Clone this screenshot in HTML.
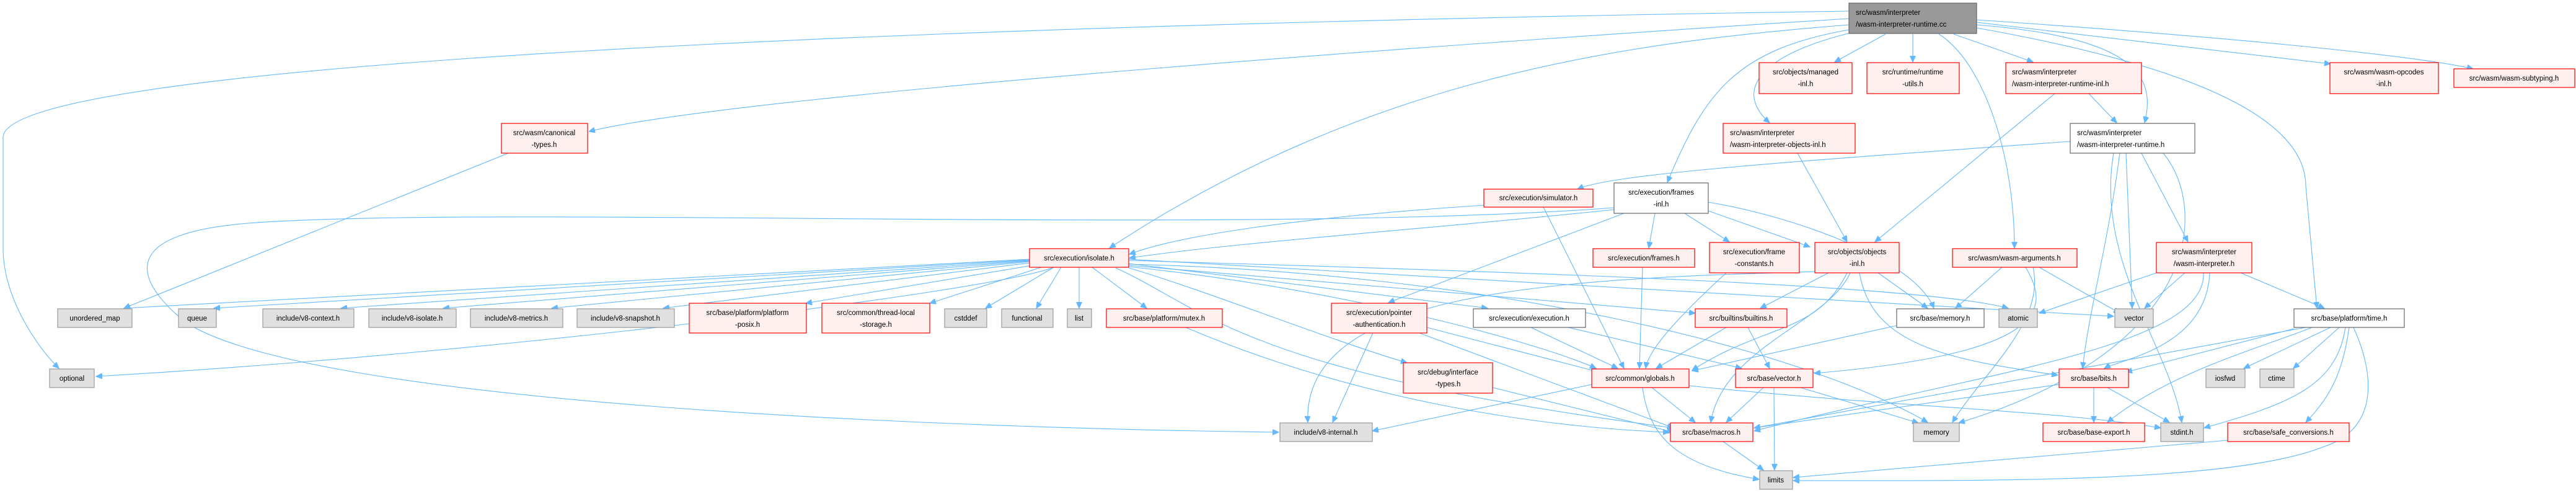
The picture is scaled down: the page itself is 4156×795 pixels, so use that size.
<!DOCTYPE html>
<html><head><meta charset="utf-8"><style>
html,body{margin:0;padding:0;background:#fff;}
svg{display:block;}
text{font-family:"Liberation Sans",sans-serif;font-size:11.5px;fill:#000;}
.r{fill:#fff0f0;stroke:#ff0000;stroke-width:1.2;}
.g{fill:#e0e0e0;stroke:#999;stroke-width:1.2;}
.w{fill:#fff;stroke:#666;stroke-width:1.2;}
.root{fill:#999;stroke:#666;stroke-width:1.2;}
path{fill:none;stroke:#63b8ff;stroke-width:1.1;}
</style></head><body>
<svg width="4156" height="795" viewBox="0 0 4156 795" xmlns="http://www.w3.org/2000/svg">
<defs><marker id="a" markerUnits="userSpaceOnUse" markerWidth="11" markerHeight="9" refX="10" refY="4.5" orient="auto"><path d="M0,0 L10,4.5 L0,9 Z" style="fill:#63b8ff;stroke:#63b8ff"/></marker></defs>
<g marker-end="url(#a)">
<path d="M2983,18 C1500,40 20,100 5,220 L5,400 C5,480 60,560 95,594"/>
<path d="M2983,30 C2500,60 1200,150 950,212"/>
<path d="M2983,40 C2600,70 2200,130 1790,400"/>
<path d="M2983,48 C2800,80 2750,150 2690,294"/>
<path d="M2990,52 C2830,90 2800,150 2855,198"/>
<path d="M3042,55 L2960,100"/>
<path d="M3086,55 L3086,100"/>
<path d="M3152,55 L3280,100"/>
<path d="M3189,40 C3440,60 3480,120 3460,198"/>
<path d="M3189,36 L3760,103"/>
<path d="M3189,32 C3600,60 3900,90 3990,111"/>
<path d="M3128,55 C3200,100 3250,250 3250,400"/>
<path d="M3189,45 C3500,100 3720,180 3720,300 L3738,497"/>
<path d="M3370,151 L3415,198"/>
<path d="M3315,151 L3025,390"/>
<path d="M2900,247 L2980,390"/>
<path d="M3340,228 C2900,260 2600,280 2545,305"/>
<path d="M3430,247 L3440,497"/>
<path d="M3455,247 L3530,390"/>
<path d="M3490,247 C3560,330 3560,560 3160,682"/>
<path d="M3420,247 C3400,400 3370,500 3360,594"/>
<path d="M3410,247 C3380,420 3500,560 3520,681"/>
<path d="M2394,331 C2100,350 1900,380 1822,410"/>
<path d="M2490,334 L2620,594"/>
<path d="M2604,338 C2300,370 2000,390 1822,416"/>
<path d="M2670,344 L2660,400"/>
<path d="M2718,344 L2790,390"/>
<path d="M2756,340 L2920,398"/>
<path d="M2620,344 L2240,488"/>
<path d="M2756,326 C2900,350 3090,420 3120,497"/>
<path d="M2604,335 C2000,380 800,330 400,360 C150,380 250,480 300,520 C500,650 1500,690 2063,697"/>
<path d="M1661,418 L200,497"/>
<path d="M1661,419 L345,497"/>
<path d="M1661,420 L550,497"/>
<path d="M1661,421 L715,497"/>
<path d="M1661,422 L890,497"/>
<path d="M1661,424 L1070,497"/>
<path d="M1665,428 L1300,489"/>
<path d="M1680,431 L1500,489"/>
<path d="M1700,431 L1590,497"/>
<path d="M1712,431 L1672,497"/>
<path d="M1741,431 L1741,497"/>
<path d="M1762,431 L1850,497"/>
<path d="M1700,431 C1600,470 800,570 155,607"/>
<path d="M1821,425 L2400,497"/>
<path d="M1821,428 L2735,505"/>
<path d="M1821,432 C1950,470 2150,550 2270,585"/>
<path d="M1821,420 C2500,440 3100,460 3240,497"/>
<path d="M1821,418 L3410,510"/>
<path d="M1821,426 C2400,440 2900,560 3110,681"/>
<path d="M1800,432 C1950,500 2000,600 2700,690"/>
<path d="M1821,430 C2200,470 2500,560 2575,594"/>
<path d="M2928,438 C2500,450 2100,470 2110,681"/>
<path d="M2215,537 L2150,681"/>
<path d="M2302,528 L2580,600"/>
<path d="M2290,537 L2700,690"/>
<path d="M1913,528 C2200,650 2500,690 2693,697"/>
<path d="M2408,625 L2700,697"/>
<path d="M2470,528 L2610,594"/>
<path d="M2530,528 L2810,594"/>
<path d="M2785,528 L2672,594"/>
<path d="M2820,528 L2855,594"/>
<path d="M2785,440 C2720,500 2660,560 2655,594"/>
<path d="M2650,431 L2645,594"/>
<path d="M2950,440 L2840,497"/>
<path d="M3030,440 L3110,497"/>
<path d="M2980,440 C2930,540 2850,520 2730,597"/>
<path d="M2985,440 C2950,520 2780,560 2760,681"/>
<path d="M3000,440 C3020,560 3150,580 3320,605"/>
<path d="M3230,431 L3155,497"/>
<path d="M3268,431 C3310,500 3300,570 2927,602"/>
<path d="M3290,431 L3420,505"/>
<path d="M3280,431 C3300,520 3200,600 3150,681"/>
<path d="M3060,525 L2730,598"/>
<path d="M2665,625 L2735,681"/>
<path d="M2650,625 C2660,700 2700,750 2838,773"/>
<path d="M2568,620 L2214,695"/>
<path d="M2725,622 C3100,660 3300,660 3486,690"/>
<path d="M2845,625 L2785,681"/>
<path d="M2862,625 L2863,758"/>
<path d="M2905,625 L3095,682"/>
<path d="M2780,712 L2845,758"/>
<path d="M3378,625 L3378,681"/>
<path d="M3400,625 L3500,681"/>
<path d="M3322,620 L2830,690"/>
<path d="M3525,440 L3460,497"/>
<path d="M3615,440 L3750,497"/>
<path d="M3479,440 L3290,505"/>
<path d="M3565,440 C3560,560 3420,580 3395,594"/>
<path d="M3555,440 C3560,560 3200,600 2830,695"/>
<path d="M3760,528 L3620,594"/>
<path d="M3774,528 L3700,594"/>
<path d="M3730,528 C3650,560 3500,600 3400,681"/>
<path d="M3784,528 C3770,620 3700,650 3556,690"/>
<path d="M3790,528 C3780,600 3760,640 3720,681"/>
<path d="M3797,528 C3830,600 3840,690 3750,720 C3600,780 3200,775 2893,775"/>
<path d="M3701,530 L3430,600"/>
<path d="M3720,528 L2830,690"/>
<path d="M3594,710 L2893,770"/>
<path d="M820,247 L200,497"/>
</g>
<rect class="root" x="2983" y="5" width="206" height="49"/>
<text x="2994" y="24">src/wasm/interpreter</text><text x="2994" y="43">/wasm-interpreter-runtime.cc</text>

<rect class="r" x="809" y="199" width="139" height="48"/><text x="878" y="218" text-anchor="middle">src/wasm/canonical</text><text x="878" y="237" text-anchor="middle">-types.h</text>
<rect class="r" x="2838" y="101" width="150" height="50"/><text x="2913" y="120" text-anchor="middle">src/objects/managed</text><text x="2913" y="139" text-anchor="middle">-inl.h</text>
<rect class="r" x="3012" y="101" width="149" height="50"/><text x="3086" y="120" text-anchor="middle">src/runtime/runtime</text><text x="3086" y="139" text-anchor="middle">-utils.h</text>
<rect class="r" x="3236" y="101" width="219" height="50"/><text x="3246" y="120">src/wasm/interpreter</text><text x="3246" y="139">/wasm-interpreter-runtime-inl.h</text>
<rect class="r" x="3759" y="101" width="175" height="50"/><text x="3846" y="120" text-anchor="middle">src/wasm/wasm-opcodes</text><text x="3846" y="139" text-anchor="middle">-inl.h</text>
<rect class="r" x="3959" y="111" width="195" height="30"/><text x="4056" y="130" text-anchor="middle">src/wasm/wasm-subtyping.h</text>
<rect class="r" x="2780" y="199" width="213" height="48"/><text x="2791" y="218">src/wasm/interpreter</text><text x="2791" y="237">/wasm-interpreter-objects-inl.h</text>
<rect class="w" x="3340" y="199" width="201" height="48"/><text x="3351" y="218">src/wasm/interpreter</text><text x="3351" y="237">/wasm-interpreter-runtime.h</text>
<rect class="r" x="2394" y="305" width="176" height="29"/><text x="2482" y="323" text-anchor="middle">src/execution/simulator.h</text>
<rect class="w" x="2604" y="295" width="152" height="49"/><text x="2680" y="314" text-anchor="middle">src/execution/frames</text><text x="2680" y="333" text-anchor="middle">-inl.h</text>

<rect class="r" x="1661" y="401" width="160" height="30"/><text x="1741" y="420" text-anchor="middle">src/execution/isolate.h</text>
<rect class="r" x="2570" y="401" width="164" height="30"/><text x="2652" y="420" text-anchor="middle">src/execution/frames.h</text>
<rect class="r" x="2758" y="391" width="145" height="49"/><text x="2830" y="410" text-anchor="middle">src/execution/frame</text><text x="2830" y="429" text-anchor="middle">-constants.h</text>
<rect class="r" x="2928" y="391" width="136" height="49"/><text x="2996" y="410" text-anchor="middle">src/objects/objects</text><text x="2996" y="429" text-anchor="middle">-inl.h</text>
<rect class="r" x="3150" y="401" width="201" height="30"/><text x="3250" y="420" text-anchor="middle">src/wasm/wasm-arguments.h</text>
<rect class="r" x="3479" y="391" width="154" height="49"/><text x="3556" y="410" text-anchor="middle">src/wasm/interpreter</text><text x="3556" y="429" text-anchor="middle">/wasm-interpreter.h</text>

<rect class="g" x="93" y="498" width="120" height="30"/><text x="153" y="517" text-anchor="middle">unordered_map</text>
<rect class="g" x="288" y="498" width="61" height="30"/><text x="318" y="517" text-anchor="middle">queue</text>
<rect class="g" x="424" y="498" width="147" height="30"/><text x="497" y="517" text-anchor="middle">include/v8-context.h</text>
<rect class="g" x="595" y="498" width="141" height="30"/><text x="665" y="517" text-anchor="middle">include/v8-isolate.h</text>
<rect class="g" x="759" y="498" width="149" height="30"/><text x="833" y="517" text-anchor="middle">include/v8-metrics.h</text>
<rect class="g" x="931" y="498" width="157" height="30"/><text x="1009" y="517" text-anchor="middle">include/v8-snapshot.h</text>
<rect class="r" x="1112" y="489" width="189" height="48"/><text x="1206" y="508" text-anchor="middle">src/base/platform/platform</text><text x="1206" y="527" text-anchor="middle">-posix.h</text>
<rect class="r" x="1326" y="489" width="174" height="48"/><text x="1413" y="508" text-anchor="middle">src/common/thread-local</text><text x="1413" y="527" text-anchor="middle">-storage.h</text>
<rect class="g" x="1524" y="498" width="68" height="30"/><text x="1558" y="517" text-anchor="middle">cstddef</text>
<rect class="g" x="1616" y="498" width="83" height="30"/><text x="1657" y="517" text-anchor="middle">functional</text>
<rect class="g" x="1722" y="498" width="39" height="30"/><text x="1741" y="517" text-anchor="middle">list</text>
<rect class="r" x="1785" y="498" width="187" height="30"/><text x="1878" y="517" text-anchor="middle">src/base/platform/mutex.h</text>
<rect class="r" x="2148" y="489" width="154" height="48"/><text x="2225" y="508" text-anchor="middle">src/execution/pointer</text><text x="2225" y="527" text-anchor="middle">-authentication.h</text>
<rect class="w" x="2377" y="498" width="181" height="30"/><text x="2467" y="517" text-anchor="middle">src/execution/execution.h</text>
<rect class="r" x="2735" y="498" width="148" height="30"/><text x="2809" y="517" text-anchor="middle">src/builtins/builtins.h</text>
<rect class="w" x="3060" y="498" width="141" height="30"/><text x="3130" y="517" text-anchor="middle">src/base/memory.h</text>
<rect class="g" x="3225" y="498" width="62" height="30"/><text x="3256" y="517" text-anchor="middle">atomic</text>
<rect class="g" x="3412" y="498" width="62" height="30"/><text x="3443" y="517" text-anchor="middle">vector</text>
<rect class="w" x="3701" y="498" width="178" height="30"/><text x="3790" y="517" text-anchor="middle">src/base/platform/time.h</text>

<rect class="g" x="80" y="595" width="72" height="30"/><text x="116" y="614" text-anchor="middle">optional</text>
<rect class="r" x="2264" y="585" width="144" height="49"/><text x="2336" y="604" text-anchor="middle">src/debug/interface</text><text x="2336" y="623" text-anchor="middle">-types.h</text>
<rect class="r" x="2568" y="595" width="157" height="30"/><text x="2646" y="614" text-anchor="middle">src/common/globals.h</text>
<rect class="r" x="2800" y="595" width="125" height="30"/><text x="2862" y="614" text-anchor="middle">src/base/vector.h</text>
<rect class="r" x="3322" y="595" width="112" height="30"/><text x="3378" y="614" text-anchor="middle">src/base/bits.h</text>
<rect class="g" x="3559" y="595" width="63" height="30"/><text x="3590" y="614" text-anchor="middle">iosfwd</text>
<rect class="g" x="3646" y="595" width="55" height="30"/><text x="3673" y="614" text-anchor="middle">ctime</text>

<rect class="g" x="2065" y="682" width="149" height="30"/><text x="2139" y="701" text-anchor="middle">include/v8-internal.h</text>
<rect class="r" x="2695" y="682" width="133" height="30"/><text x="2761" y="701" text-anchor="middle">src/base/macros.h</text>
<rect class="g" x="3087" y="682" width="74" height="30"/><text x="3124" y="701" text-anchor="middle">memory</text>
<rect class="r" x="3296" y="682" width="164" height="30"/><text x="3378" y="701" text-anchor="middle">src/base/base-export.h</text>
<rect class="g" x="3486" y="682" width="69" height="30"/><text x="3520" y="701" text-anchor="middle">stdint.h</text>
<rect class="r" x="3594" y="682" width="196" height="30"/><text x="3692" y="701" text-anchor="middle">src/base/safe_conversions.h</text>
<rect class="g" x="2839" y="759" width="53" height="30"/><text x="2865" y="778" text-anchor="middle">limits</text>
</svg>
</body></html>
